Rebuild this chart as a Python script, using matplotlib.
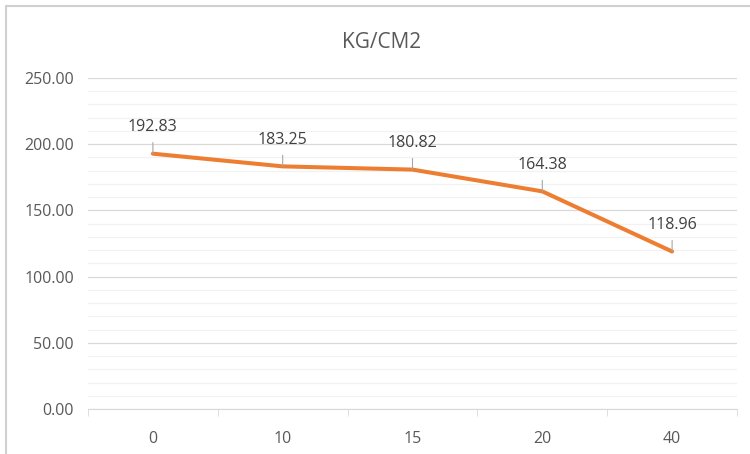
import matplotlib.pyplot as plt
from matplotlib.patches import Rectangle

categories = ['0', '10', '15', '20', '40']
values = [192.83, 183.25, 180.82, 164.38, 118.96]
title = 'KG/CM2'

plt.rcParams['font.family'] = ['Open Sans', 'DejaVu Sans']

fig = plt.figure(figsize=(7.5, 4.54), dpi=100)
ax = fig.add_axes([88 / 750, 1 - 409 / 454, (737 - 88) / 750, (409 - 78) / 454])

x = list(range(len(categories)))
ax.plot(x, values, color='#ED7D31', lw=2.9, solid_capstyle='round', zorder=3)

# data labels with short leader lines
for xi, v in zip(x, values):
    ax.annotate('', xy=(xi, v), xytext=(0, 8), textcoords='offset points',
                arrowprops=dict(arrowstyle='-', color='#a6a6a6', lw=0.8,
                                shrinkA=0, shrinkB=0))
    ax.annotate('%.2f' % v, xy=(xi, v), xytext=(0, 19), textcoords='offset points',
                ha='center', va='center', fontsize=11.5, color='#404040')

ax.set_xlim(-0.5, len(categories) - 0.5)
ax.set_ylim(0, 250)
ax.set_yticks(range(0, 251, 50))
ax.set_yticklabels(['%.2f' % t for t in range(0, 251, 50)])
ax.set_yticks(range(0, 251, 10), minor=True)
ax.set_xticks(x)
ax.set_xticklabels(categories)

ax.grid(axis='y', which='major', color='#d9d9d9', lw=0.9)
ax.grid(axis='y', which='minor', color='#f2f2f2', lw=0.9)
ax.set_axisbelow(True)

for s in ['top', 'right', 'left']:
    ax.spines[s].set_visible(False)
ax.spines['bottom'].set_color('#d9d9d9')
ax.tick_params(axis='y', which='both', length=0, pad=10, labelsize=11.5, labelcolor='#595959')
ax.tick_params(axis='x', which='major', length=0, pad=16, labelsize=11.5, labelcolor='#595959')
ax.tick_params(axis='x', which='minor', length=5, color='#d9d9d9')
ax.set_xticks([i + 0.5 for i in range(-1, len(categories))], minor=True)

fig.text(382 / 750, 1 - 42 / 454, title, ha='center', va='center',
         fontsize=15, color='#595959')

# chart area border
fig.patches.append(Rectangle((6 / 750, -0.01), 1.0, 1 - 6 / 454 + 0.01,
                             transform=fig.transFigure, fill=False,
                             edgecolor='#d0d0d0', lw=1.5))

fig.savefig('out.png', dpi=100)
